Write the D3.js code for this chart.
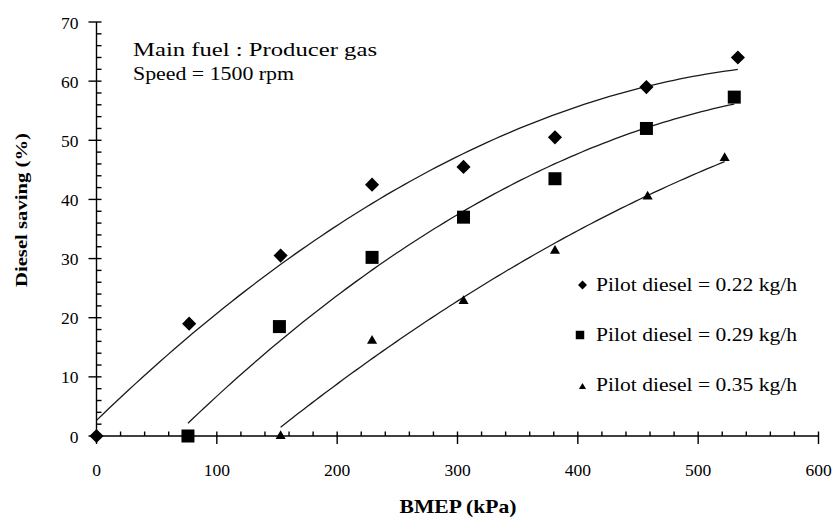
<!DOCTYPE html>
<html>
<head>
<meta charset="utf-8">
<script src="https://cdn.jsdelivr.net/npm/d3@7"></script>
<style>
  html, body { margin: 0; padding: 0; background: #fff; }
  svg { display: block; }
</style>
</head>
<body>
<svg id="chart" width="840" height="520"></svg>
<script>
// ---- data ----
const xTicks = [0, 100, 200, 300, 400, 500, 600];
const yTicks = [0, 10, 20, 30, 40, 50, 60, 70];

const bmep022 = [0, 77, 153, 229, 305, 381, 457, 533];
const saving022 = [0, 19, 30.5, 42.5, 45.5, 50.5, 59, 64];

const bmep029 = [76, 152, 229, 305, 381, 457, 530];
const saving029 = [0, 18.5, 30.2, 37, 43.5, 52, 57.3];

const bmep035 = [153, 229, 305, 381, 458, 522];
const saving035 = [0, 16.1, 22.8, 31.3, 40.5, 47];

const seriesLabels = ["Pilot diesel = 0.22 kg/h", "Pilot diesel = 0.29 kg/h", "Pilot diesel = 0.35 kg/h"];
const seriesShapes = ["diamond", "square", "triangle"];
const noteLines = ["Main fuel : Producer gas", "Speed = 1500 rpm"];
const xTitle = "BMEP (kPa)";
const yTitle = "Diesel saving (%)";

// ---- build ----
const FONT = '"Liberation Serif", Tinos, "Noto Serif", "Times New Roman", Times, "Nimbus Roman", FreeSerif, "DejaVu Serif", serif';
const series = [
  { x: bmep022, y: saving022, label: seriesLabels[0], shape: seriesShapes[0] },
  { x: bmep029, y: saving029, label: seriesLabels[1], shape: seriesShapes[1] },
  { x: bmep035, y: saving035, label: seriesLabels[2], shape: seriesShapes[2] }
];

const svg = d3.select("#chart").attr("font-family", FONT);
const x = d3.scaleLinear().domain([0, 600]).range([96.5, 818.5]);
const y = d3.scaleLinear().domain([0, 70]).range([436, 22]);

// quadratic least-squares trend line (as the polynomial trendline in the source)
function quadFit(xs, ys) {
  const n = xs.length;
  let s = [0, 0, 0, 0, 0], t = [0, 0, 0];
  for (let i = 0; i < n; i++) {
    let p = 1;
    for (let k = 0; k < 5; k++) { s[k] += p; p *= xs[i]; }
    p = 1;
    for (let k = 0; k < 3; k++) { t[k] += p * ys[i]; p *= xs[i]; }
  }
  const A = [[s[0], s[1], s[2], t[0]], [s[1], s[2], s[3], t[1]], [s[2], s[3], s[4], t[2]]];
  for (let c = 0; c < 3; c++) {
    for (let r = c + 1; r < 3; r++) {
      const f = A[r][c] / A[c][c];
      for (let k = c; k < 4; k++) A[r][k] -= f * A[c][k];
    }
  }
  const coef = [0, 0, 0];
  for (let r = 2; r >= 0; r--) {
    let v = A[r][3];
    for (let k = r + 1; k < 3; k++) v -= A[r][k] * coef[k];
    coef[r] = v / A[r][r];
  }
  return v => coef[0] + coef[1] * v + coef[2] * v * v;
}

const line = d3.line().x(d => x(d[0])).y(d => y(d[1])).curve(d3.curveLinear);

series.forEach(s => {
  const f = quadFit(s.x, s.y);
  const x0 = d3.min(s.x), x1 = d3.max(s.x);
  const pts = d3.range(0, 101).map(i => { const v = x0 + (x1 - x0) * i / 100; return [v, f(v)]; });
  svg.append("path").attr("d", line(pts))
    .attr("fill", "none").attr("stroke", "#1a1a1a").attr("stroke-width", 1.3);
});

// ---- axes ----
const axisG = svg.append("g").attr("stroke", "#000").attr("stroke-width", 1.4);
// x axis
axisG.append("line").attr("x1", x(0)).attr("x2", x(600)).attr("y1", y(0)).attr("y2", y(0));
d3.range(0, 601, 20).forEach(v => {
  const major = v % 100 === 0;
  axisG.append("line").attr("x1", x(v)).attr("x2", x(v))
    .attr("y1", y(0) - 4.5).attr("y2", y(0) + (major ? 8 : 0));
});
// y axis
axisG.append("line").attr("x1", x(0)).attr("x2", x(0)).attr("y1", y(0)).attr("y2", y(70));
d3.range(0, 71, 2).forEach(v => {
  const major = v % 10 === 0;
  axisG.append("line").attr("x1", x(0) - (major ? 8 : 0)).attr("x2", x(0) + 5)
    .attr("y1", y(v)).attr("y2", y(v));
});

svg.append("g").selectAll("text").data(xTicks).join("text")
  .attr("x", d => x(d)).attr("y", y(0) + 40).attr("text-anchor", "middle")
  .attr("font-size", 17.5).attr("fill", "#000").text(d => d);

svg.append("g").selectAll("text").data(yTicks).join("text")
  .attr("x", x(0) - 18).attr("y", d => y(d) + 6.5).attr("text-anchor", "end")
  .attr("font-size", 17.5).attr("fill", "#000").text(d => d);

svg.append("text").attr("x", 458).attr("y", 513).attr("text-anchor", "middle")
  .attr("font-size", 19).attr("font-weight", "bold")
  .attr("textLength", 117).attr("lengthAdjust", "spacingAndGlyphs").text(xTitle);

svg.append("text").attr("transform", "translate(27,210) rotate(-90)")
  .attr("text-anchor", "middle").attr("font-size", 16).attr("font-weight", "bold")
  .attr("textLength", 154).attr("lengthAdjust", "spacingAndGlyphs").text(yTitle);

// ---- markers ----
function symbolPath(shape, big) {
  if (shape === "diamond") return d3.symbol(d3.symbolSquare, big ? 100 : 40)();
  if (shape === "square") return d3.symbol(d3.symbolSquare, big ? 169 : 72)();
  return d3.symbol(d3.symbolTriangle, big ? 44 : 22)();
}
series.forEach(s => {
  svg.append("g").selectAll("path").data(s.x.map((v, i) => [v, s.y[i]])).join("path")
    .attr("d", symbolPath(s.shape, true))
    .attr("transform", d => `translate(${x(d[0])},${y(d[1])})` + (s.shape === "diamond" ? " rotate(45)" : ""))
    .attr("fill", "#000");
});

// ---- notes ----
svg.append("text").attr("x", 133).attr("y", 56).attr("font-size", 19.5)
  .attr("textLength", 244).attr("lengthAdjust", "spacingAndGlyphs").text(noteLines[0]);
svg.append("text").attr("x", 133).attr("y", 80).attr("font-size", 18)
  .attr("textLength", 161).attr("lengthAdjust", "spacingAndGlyphs").text(noteLines[1]);

// ---- legend ----
const legendY = [291, 341, 391];
series.forEach((s, i) => {
  const my = legendY[i] - (s.shape === "triangle" ? 4 : 6);
  svg.append("path").attr("d", symbolPath(s.shape, false))
    .attr("transform", `translate(${s.shape === "square" ? 580 : 582.5},${my})` + (s.shape === "diamond" ? " rotate(45)" : ""))
    .attr("fill", "#000");
  svg.append("text").attr("x", 596).attr("y", legendY[i]).attr("font-size", 19.5)
    .attr("textLength", 201).attr("lengthAdjust", "spacingAndGlyphs").text(s.label);
});
</script>
</body>
</html>
